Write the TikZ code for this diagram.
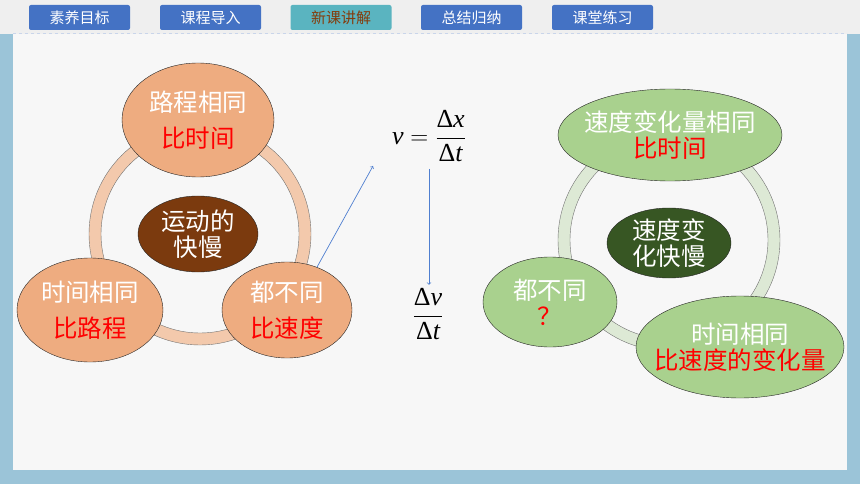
\documentclass[tikz,border=0pt]{standalone}
\usepackage{amsmath}
\usepackage{fontspec}
\setmainfont{Noto Sans CJK SC}
\newfontfamily\tnr{Liberation Serif}
\usepackage{xcolor}
\usetikzlibrary{shapes.geometric,positioning,calc}
\definecolor{bgblue}{HTML}{9BC4D8}
\definecolor{topgray}{HTML}{EFEFEF}
\definecolor{panelgray}{HTML}{F7F7F7}
\definecolor{tabblue}{HTML}{4472C4}
\definecolor{tabteal}{HTML}{5AB4C0}
\definecolor{tabbrown}{HTML}{843C0C}
\definecolor{peachfill}{HTML}{EEAC80}
\definecolor{peachring}{HTML}{F3C9AC}
\definecolor{coffee}{HTML}{7B3A0E}
\definecolor{leaffill}{HTML}{A9D18E}
\definecolor{leafring}{HTML}{DDE9D5}
\definecolor{forest}{HTML}{375623}
\definecolor{arrowblue}{HTML}{4F7FD0}
\definecolor{dashblue}{HTML}{C9D5EA}
\tikzset{%
	tab/.style      = {rectangle, rounded corners=2pt, fill=tabblue, text=white, minimum width=101pt, minimum height=25pt, inner sep=0pt, font=\fontsize{15}{18}\selectfont},
	tabon/.style    = {tab, fill=tabteal, text=tabbrown},
	bubble/.style   = {draw=black!85, ellipse, inner sep=-40pt, align=center, text=white, font=\fontsize{24.5}{26}\selectfont},
	peach/.style    = {bubble, fill=peachfill},
	leaf/.style     = {bubble, fill=leaffill},
	ring/.style     = {draw=black!55, even odd rule},
	arrow/.style    = {draw=arrowblue, line width=0.7pt, ->},
	formula/.style  = {font=\tnr\fontsize{26}{30}\selectfont},
}

\begin{document}
\begin{tikzpicture}[x=1pt,y=-1pt]
		\useasboundingbox (0,0) rectangle (860,484);
		\fill[bgblue] (0,0) rectangle (860,484);
		\fill[topgray] (0,0) rectangle (860,34);
		\fill[panelgray] (13,34) rectangle (847,470);
		\draw[dashblue, dashed] (13,33.5) -- (847,33.5);
		
		\node[tab]   (tab1) at (79.5,17.5)  {素养目标};
		\node[tab]   (tab2) at (210.5,17.5) {课程导入};
		\node[tabon] (tab3) at (341,17.5)   {新课讲解};
		\node[tab]   (tab4) at (471.5,17.5) {总结归纳};
		\node[tab]   (tab5) at (602.5,17.5) {课堂练习};
		
		% left cycle
		\fill[peachring, ring] (200,234) circle[radius=111pt] (200,234) circle[radius=99pt];
		\node[peach, minimum width=152pt, minimum height=114pt] (ltop) at (198,120) {路程相同\\[10pt]\textcolor{red}{比时间}};
		\node[peach, minimum width=146pt, minimum height=104pt] (lleft) at (90,310) {时间相同\\[10pt]\textcolor{red}{比路程}};
		\node[peach, minimum width=130pt, minimum height=96pt] (lright) at (287,310) {都不同\\[10pt]\textcolor{red}{比速度}};
		\node[bubble, fill=coffee, minimum width=120pt, minimum height=76pt] (lcore) at (198,234) {运动的\\快慢};
		
		\node[formula] (vdef) at (429,136) {$\textit{v}=\dfrac{\textup{Δ}\textit{x}}{\textup{Δ}\textit{t}}$};
		\node[formula] (avdt) at (428,314) {$\dfrac{\textup{Δ}\textit{v}}{\textup{Δ}\textit{t}}$};
		\coordinate (tipA) at (373,166);
		\coordinate (dstart) at (429,169);
		\draw[arrow] (lright.55) -- (tipA);
		\draw[arrow] (dstart) -- (avdt.north -| dstart);
		
		% right cycle
		\fill[leafring, ring] (669,240) circle[radius=111pt] (669,240) circle[radius=99pt];
		\node[leaf, minimum width=224pt, minimum height=92pt] (rtop) at (670,135) {速度变化量相同\\\textcolor{red}{比时间}};
		\node[bubble, fill=forest, minimum width=124pt, minimum height=70pt] (rcore) at (669,243) {速度变\\化快慢};
		\node[leaf, minimum width=134pt, minimum height=90pt] (rleft) at (550,302) {都不同\\\textcolor{red}{？}};
		\node[leaf, minimum width=208pt, minimum height=102pt] (rright) at (740,347) {时间相同\\\textcolor{red}{比速度的变化量}};
\end{tikzpicture}
\end{document}
